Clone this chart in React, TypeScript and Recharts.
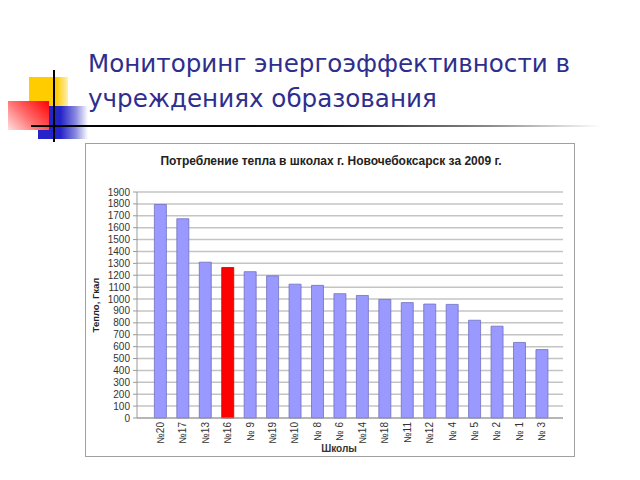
import React from 'react';
import { BarChart, Bar, XAxis, YAxis, CartesianGrid, Cell } from 'recharts';

const schools = ['№20', '№17', '№13', '№16', '№ 9', '№19', '№10', '№ 8', '№ 6', '№14', '№18', '№11', '№12', '№ 4', '№ 5', '№ 2', '№ 1', '№ 3'];
const heat = [1795, 1675, 1310, 1265, 1230, 1195, 1125, 1115, 1045, 1030, 997, 970, 958, 955, 822, 772, 635, 575];
const highlighted = ['№16'];
const heatTicks = [0, 100, 200, 300, 400, 500, 600, 700, 800, 900, 1000, 1100, 1200, 1300, 1400, 1500, 1600, 1700, 1800, 1900];

const data = schools.map((name, i) => ({ name, heat: heat[i] }));

const font = '"Liberation Sans", Arial, sans-serif';

const SchoolTick = (props: any) => {
  const { x, y, payload } = props;
  return (
    <text
      x={x}
      y={y}
      transform={`rotate(-90 ${x} ${y})`}
      textAnchor="end"
      dy="0.35em"
      fontSize={10}
      fontFamily={font}
      fill="#333"
    >
      {payload.value}
    </text>
  );
};

export default function App() {
  return (
    <div style={{ position: 'absolute', left: 0, top: 0, width: 640, height: 480, background: '#fff', overflow: 'hidden' }}>
      {/* декор слева */}
      <div style={{ position: 'absolute', left: 29, top: 77, width: 39, height: 30, background: 'linear-gradient(to right, #ffcc00 0%, #ffcc00 70%, #fff0b0 100%)' }} />
      <div style={{ position: 'absolute', left: 38, top: 106, width: 50, height: 33, background: 'linear-gradient(to right, #2424c8 0%, #2424c8 45%, #8888e0 75%, #ffffff 100%)' }} />
      <div style={{ position: 'absolute', left: 8, top: 101, width: 41, height: 29, backgroundImage: 'linear-gradient(45deg, #ffe0e0 0%, #ff7070 45%, #ff0000 100%)' }} />
      <div style={{ position: 'absolute', left: 53, top: 70, width: 2, height: 72, background: '#000' }} />
      <div style={{ position: 'absolute', left: 31, top: 125, width: 570, height: 2, background: 'linear-gradient(to right, #000 0%, #111 50%, #888 80%, #fff 100%)' }} />

      <div style={{ position: 'absolute', left: 88, top: 46, fontFamily: '"DejaVu Sans", sans-serif', fontSize: 24.6, lineHeight: '35px', color: '#2e2e8e', whiteSpace: 'nowrap' }}>
        Мониторинг энергоэффективности в<br />учреждениях образования
      </div>

      <div style={{ position: 'absolute', left: 85, top: 143, width: 490, height: 314, border: '1px solid #a0a0a0', boxSizing: 'border-box', background: '#fff' }}>
        <div style={{ position: 'absolute', left: 0, width: 490, top: 10, textAlign: 'center', fontFamily: font, fontSize: 12, fontWeight: 'bold', color: '#222' }}>
          Потребление тепла в школах г. Новочебоксарск за 2009 г.
        </div>
        <div style={{ position: 'absolute', left: 0, width: 506, top: 299, textAlign: 'center', fontFamily: font, fontSize: 10, fontWeight: 'bold', color: '#333' }}>
          Школы
        </div>
      </div>

      <div style={{ position: 'absolute', left: 85, top: 143 }}>
        <BarChart width={490} height={314} data={data} margin={{ top: 49, right: 12, left: 0, bottom: 0 }} barCategoryGap="24%">
          <CartesianGrid yAxisId="left" vertical={false} stroke="#c4c4c4" strokeWidth={1.5} />
          <XAxis
            dataKey="name"
            height={39}
            interval={0}
            tickLine={false}
            tickSize={0}
            tickMargin={4}
            padding={{ left: 12, right: 10 }}
            axisLine={{ stroke: '#999' }}
            tick={<SchoolTick />}
          />
          <YAxis
            yAxisId="left"
            width={52}
            domain={[0, 1900]}
            ticks={heatTicks}
            interval={0}
            tickSize={4}
            tickMargin={3}
            tickLine={{ stroke: '#999' }}
            axisLine={{ stroke: '#999' }}
            tick={{ fontSize: 10, fontFamily: font, fill: '#333' }}
            label={{ value: 'Тепло, Гкал', angle: -90, position: 'insideLeft', offset: 11, style: { textAnchor: 'middle', fontSize: 9.5, fontWeight: 'bold', fontFamily: font, fill: '#222' } }}
          />
          <YAxis yAxisId="right" orientation="right" width={0} domain={[0, 1900]} tick={false} tickLine={false} axisLine={{ stroke: '#c4c4c4' }} />
          <Bar yAxisId="left" dataKey="heat" isAnimationActive={false} stroke="#7070c0" strokeWidth={0.8}>
            {data.map((d) => (
              <Cell key={d.name} fill={highlighted.includes(d.name) ? '#ff0000' : '#9999ff'} stroke={highlighted.includes(d.name) ? '#c00000' : '#7070c0'} />
            ))}
          </Bar>
        </BarChart>
      </div>
    </div>
  );
}
